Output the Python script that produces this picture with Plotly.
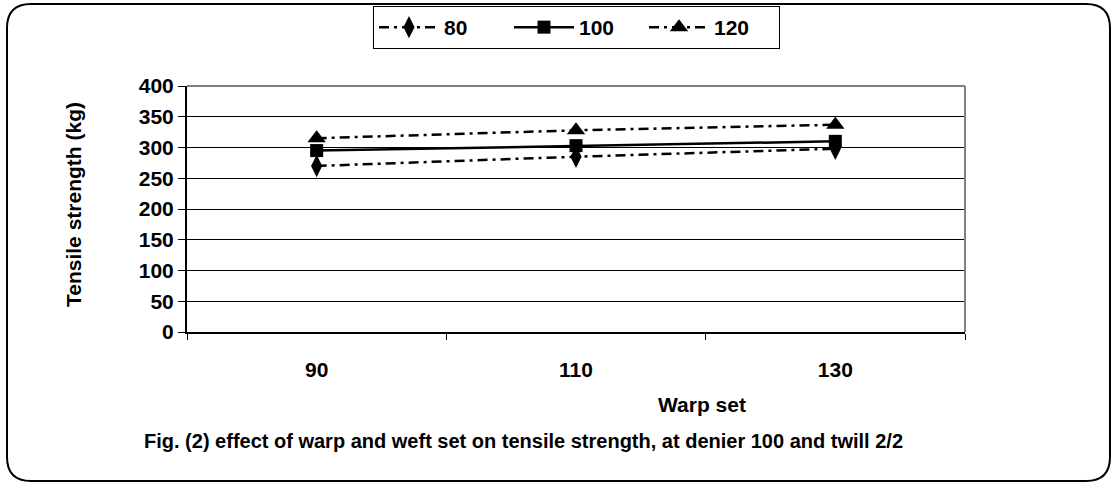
import plotly.graph_objects as go

# Warp set categories and tensile strength (kg) per weft set
warp_set = ["90", "110", "130"]
weft_80 = [270, 285, 298]
weft_100 = [295, 303, 310]
weft_120 = [315, 328, 337]
y_ticks = [0, 50, 100, 150, 200, 250, 300, 350, 400]

FONT = "Liberation Sans, Arial, sans-serif"
DASHDOT = "10px,5px,3px,5px"

fig = go.Figure()
fig.add_trace(go.Scatter(
    x=warp_set, y=weft_80, name="<b>80</b>", mode="lines+markers",
    line=dict(color="black", width=2.5, dash=DASHDOT),
    marker=dict(symbol="diamond-tall", size=16, color="black"),
))
fig.add_trace(go.Scatter(
    x=warp_set, y=weft_100, name="<b>100</b>", mode="lines+markers",
    line=dict(color="black", width=2.5),
    marker=dict(symbol="square", size=13, color="black"),
))
fig.add_trace(go.Scatter(
    x=warp_set, y=weft_120, name="<b>120</b>", mode="lines+markers",
    line=dict(color="black", width=2.5, dash=DASHDOT),
    marker=dict(symbol="triangle-up", size=16, color="black"),
))

L, R, T, B = 187, 965, 86, 332
W, H = 1115, 484
pw, ph = R - L, B - T


def px(x):
    return (x - L) / pw


def py(y):
    return (B - y) / ph


# rounded outer frame
fx0, fx1, fy0, fy1, rad = 7, 1110, 4, 481, 24
frame = (
    f"M {px(fx0 + rad)},{py(fy0)} L {px(fx1 - rad)},{py(fy0)} "
    f"Q {px(fx1)},{py(fy0)} {px(fx1)},{py(fy0 + rad)} "
    f"L {px(fx1)},{py(fy1 - rad)} Q {px(fx1)},{py(fy1)} {px(fx1 - rad)},{py(fy1)} "
    f"L {px(fx0 + rad)},{py(fy1)} Q {px(fx0)},{py(fy1)} {px(fx0)},{py(fy1 - rad)} "
    f"L {px(fx0)},{py(fy0 + rad)} Q {px(fx0)},{py(fy0)} {px(fx0 + rad)},{py(fy0)} Z"
)

fig.update_layout(
    width=W, height=H,
    margin=dict(l=L, r=W - R, t=T, b=H - B, autoexpand=False),
    paper_bgcolor="white", plot_bgcolor="white",
    font=dict(family=FONT, color="black", size=20),
    showlegend=True,
    legend=dict(
        orientation="h", x=px(373), y=py(6), xanchor="left", yanchor="top",
        bordercolor="black", borderwidth=1, font=dict(size=21, family=FONT),
        itemwidth=60, entrywidth=60, entrywidthmode="pixels",
    ),
    xaxis=dict(
        type="category", tickson="boundaries", range=[-0.5, 2.5],
        showgrid=False, showline=True, linecolor="black", linewidth=2,
        ticks="outside", ticklen=6, tickcolor="black",
        ticklabelstandoff=18, tickfont=dict(size=21, family=FONT),
        tickvals=warp_set, ticktext=[f"<b>{v}</b>" for v in warp_set],
        zeroline=False,
    ),
    yaxis=dict(
        range=[0, 400], tickvals=y_ticks,
        ticktext=[f"<b>{v}</b>" for v in y_ticks],
        showgrid=True, gridcolor="black", gridwidth=1,
        showline=True, linecolor="black", linewidth=2,
        ticks="outside", ticklen=7, tickcolor="black",
        tickfont=dict(size=21, family=FONT), zeroline=False,
    ),
    shapes=[
        dict(type="path", path=frame, xref="paper", yref="paper",
             line=dict(color="black", width=2), layer="below"),
        dict(type="line", xref="paper", yref="paper", x0=0, x1=1, y0=1, y1=1,
             line=dict(color="#808080", width=2)),
        dict(type="line", xref="paper", yref="paper", x0=1, x1=1, y0=0, y1=1,
             line=dict(color="#808080", width=2)),
    ],
    annotations=[
        dict(text="<b>Tensile strength (kg)</b>", xref="paper", yref="paper",
             x=px(73), y=py(205), xanchor="center", yanchor="middle",
             textangle=-90, showarrow=False,
             font=dict(size=21, family=FONT)),
        dict(text="<b>Warp set</b>", xref="paper", yref="paper",
             x=px(702), y=py(404), xanchor="center", yanchor="middle",
             showarrow=False, font=dict(size=21, family=FONT)),
        dict(text="<b>Fig. (2) effect of warp and weft set on tensile strength, at denier 100 and twill 2/2</b>",
             xref="paper", yref="paper", x=px(523), y=py(441),
             xanchor="center", yanchor="middle", showarrow=False,
             font=dict(size=20, family=FONT)),
    ],
)

fig.write_html("out.html")
